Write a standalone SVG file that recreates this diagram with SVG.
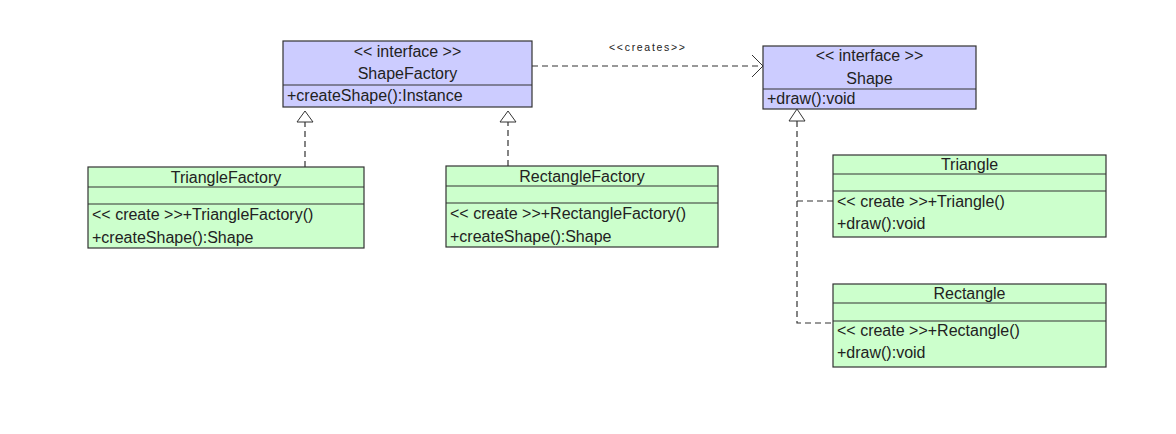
<svg xmlns="http://www.w3.org/2000/svg" width="1176" height="434" viewBox="0 0 1176 434">
<style>
.iface{fill:#ccccff;stroke:#333;stroke-width:1.2}
.cls{fill:#ccffcc;stroke:#333;stroke-width:1.2}
.div{stroke:#333;stroke-width:1.2}
text{font-family:"Liberation Sans",Arial,sans-serif;font-size:16px;fill:#222}
.c{text-anchor:middle}
.dash{fill:none;stroke:#333;stroke-width:1.2;stroke-dasharray:6 4}
.tri{fill:#fff;stroke:#333;stroke-width:1}
.open{fill:none;stroke:#333;stroke-width:1}
.small{font-size:10.5px}
</style>
<rect width="1176" height="434" fill="#fff"/>
<g id="connectors">
<path class="dash" d="M305,167 V122"/>
<polygon class="tri" points="305,111 297,122 313,122"/>
<path class="dash" d="M508,166 V122"/>
<polygon class="tri" points="508,111 500,122 516,122"/>
<path class="dash" d="M797,121 V323 H833"/>
<path class="dash" d="M797,201 H833"/>
<polygon class="tri" points="797,109 789,121 805,121"/>
<path class="dash" d="M532,66 H762"/>
<path class="open" d="M752,55 L763,66 L752,77"/>
<text class="small c" x="647" y="51" textLength="76">&lt;&lt;creates&gt;&gt;</text>
</g>
<g id="ShapeFactory">
<rect class="iface" x="283" y="41" width="249" height="66"/>
<line class="div" x1="283" y1="85" x2="532" y2="85"/>
<text class="c" x="407.5" y="57">&lt;&lt; interface &gt;&gt;</text>
<text class="c" x="407.5" y="79">ShapeFactory</text>
<text x="287" y="101">+createShape():Instance</text>
</g>
<g id="Shape">
<rect class="iface" x="763" y="46" width="213" height="63"/>
<line class="div" x1="763" y1="89" x2="976" y2="89"/>
<text class="c" x="869.5" y="61">&lt;&lt; interface &gt;&gt;</text>
<text class="c" x="869.5" y="84">Shape</text>
<text x="767" y="104">+draw():void</text>
</g>
<g id="TriangleFactory">
<rect class="cls" x="88" y="167" width="276" height="81"/>
<line class="div" x1="88" y1="187" x2="364" y2="187"/>
<line class="div" x1="88" y1="204" x2="364" y2="204"/>
<text class="c" x="226" y="183">TriangleFactory</text>
<text x="92" y="220">&lt;&lt; create &gt;&gt;+TriangleFactory()</text>
<text x="92" y="243">+createShape():Shape</text>
</g>
<g id="RectangleFactory">
<rect class="cls" x="446" y="166" width="272" height="81"/>
<line class="div" x1="446" y1="186" x2="718" y2="186"/>
<line class="div" x1="446" y1="203" x2="718" y2="203"/>
<text class="c" x="582" y="182">RectangleFactory</text>
<text x="450" y="219">&lt;&lt; create &gt;&gt;+RectangleFactory()</text>
<text x="450" y="242">+createShape():Shape</text>
</g>
<g id="Triangle">
<rect class="cls" x="833" y="155" width="273" height="82"/>
<line class="div" x1="833" y1="174" x2="1106" y2="174"/>
<line class="div" x1="833" y1="191" x2="1106" y2="191"/>
<text class="c" x="969.5" y="170">Triangle</text>
<text x="837" y="207">&lt;&lt; create &gt;&gt;+Triangle()</text>
<text x="837" y="229">+draw():void</text>
</g>
<g id="Rectangle">
<rect class="cls" x="833" y="284" width="273" height="83"/>
<line class="div" x1="833" y1="303" x2="1106" y2="303"/>
<line class="div" x1="833" y1="321" x2="1106" y2="321"/>
<text class="c" x="969.5" y="299">Rectangle</text>
<text x="837" y="336">&lt;&lt; create &gt;&gt;+Rectangle()</text>
<text x="837" y="358">+draw():void</text>
</g>
</svg>
